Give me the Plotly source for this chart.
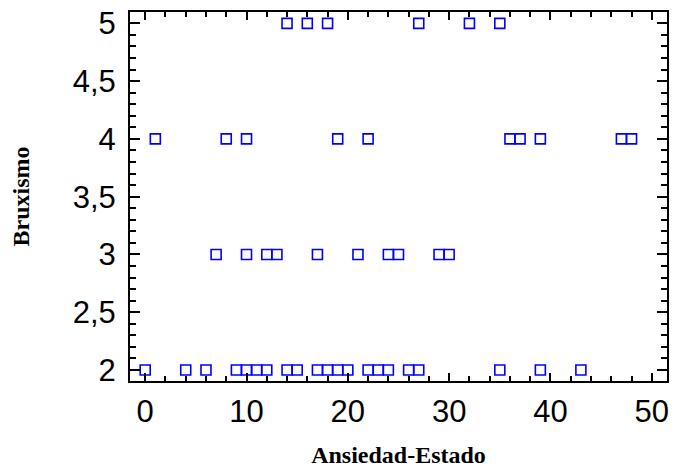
import plotly.graph_objects as go

# Data: x = Ansiedad-Estado, y = Bruxismo
x_b5 = [14, 16, 18, 27, 32, 35]
x_b4 = [1, 8, 10, 19, 22, 36, 37, 39, 47, 48]
x_b3 = [7, 10, 12, 13, 17, 21, 24, 25, 29, 30]
x_b2 = [0, 4, 6, 9, 10, 11, 12, 14, 15, 17, 18, 19, 20, 22, 23, 24, 26, 27, 35, 39, 43]

levels = [5, 4, 3, 2]
groups = [x_b5, x_b4, x_b3, x_b2]

xs, ys = [], []
for lvl, g in zip(levels, groups):
    xs += g
    ys += [lvl] * len(g)

x_ticks = [0, 10, 20, 30, 40, 50]
y_ticks = [2, 2.5, 3, 3.5, 4, 4.5, 5]

fig = go.Figure(go.Scatter(
    x=xs, y=ys, mode="markers",
    marker=dict(symbol="square-open", size=10, color="#0000ff",
                line=dict(width=1.6, color="#0000ff")),
    showlegend=False,
))

fig.update_layout(
    width=675, height=471,
    margin=dict(l=130, r=6, t=11, b=90),
    paper_bgcolor="white", plot_bgcolor="white",
    separators=",.",
)

fig.update_xaxes(
    range=[-1.5, 51.5], tickvals=x_ticks, ticktext=[str(v) for v in x_ticks],
    showgrid=False, zeroline=False,
    showline=True, linecolor="black", linewidth=2, mirror="allticks",
    ticks="inside", ticklen=8, tickwidth=2, tickcolor="black",
    minor=dict(ticks="inside", dtick=2, tick0=0, ticklen=5, tickwidth=1.5, tickcolor="black"),
    tickfont=dict(family="Liberation Sans, Arial", size=31, color="black"),
    ticklabelstandoff=2,
    title=dict(text="<b>Ansiedad-Estado</b>", standoff=18,
               font=dict(family="Liberation Serif, Times New Roman", size=24, color="black")),
)

fig.update_yaxes(
    range=[1.905, 5.098], tickvals=y_ticks,
    ticktext=[("%g" % v).replace(".", ",") for v in y_ticks],
    showgrid=False, zeroline=False,
    showline=True, linecolor="black", linewidth=2, mirror="allticks",
    ticks="inside", ticklen=10, tickwidth=2, tickcolor="black",
    minor=dict(ticks="inside", dtick=0.1, tick0=2, ticklen=6, tickwidth=1.5, tickcolor="black"),
    tickfont=dict(family="Liberation Sans, Arial", size=31, color="black"),
    ticklabelstandoff=6,
    title=dict(text="<b>Bruxismo</b>", standoff=36,
               font=dict(family="Liberation Serif, Times New Roman", size=24, color="black")),
)

fig.write_html("out.html")
